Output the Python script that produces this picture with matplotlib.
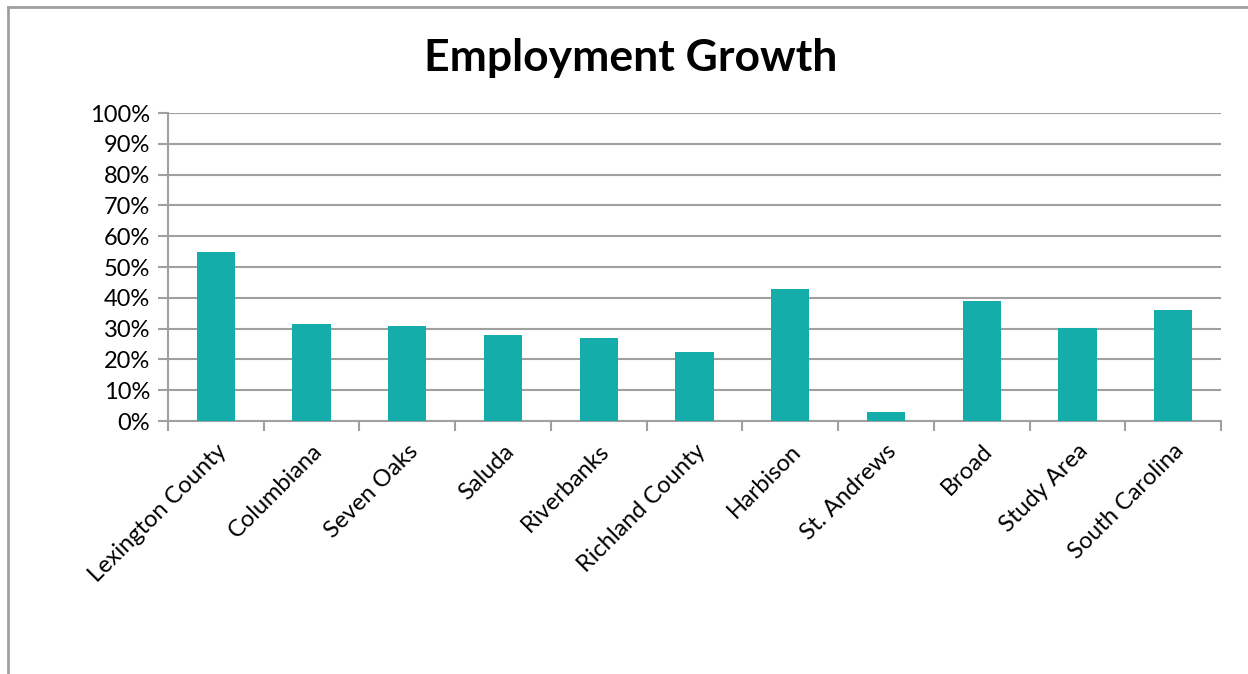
import numpy as np
import matplotlib
matplotlib.use('Agg')
import matplotlib.pyplot as plt
from matplotlib.lines import Line2D

plt.rcParams['font.family'] = ['Lato', 'DejaVu Sans']

areas = ['Lexington County', 'Columbiana', 'Seven Oaks', 'Saluda', 'Riverbanks',
         'Richland County', 'Harbison', 'St. Andrews', 'Broad', 'Study Area',
         'South Carolina']
growth = [55.0, 31.5, 30.8, 27.8, 27.0, 22.4, 43.0, 2.8, 38.9, 30.3, 36.0]
yticks = list(range(0, 101, 10))

grey = '#a0a0a0'
fig = plt.figure(figsize=(12.48, 6.74), dpi=100)
ax = fig.add_axes([168/1248, 1-421/674, (1221-168)/1248, (421-113)/674])

x = np.arange(len(areas))
ax.bar(x, growth, width=0.4, color='#14ada9', zorder=3)

ax.set_xlim(-0.5, len(areas)-0.5)
ax.set_ylim(0, 100)
ax.set_yticks(yticks)
ax.set_yticklabels([f'{v}%' for v in yticks], fontsize=17)
ax.set_xticks(x)
ax.set_xticklabels(areas, rotation=45, ha='right', rotation_mode='anchor', fontsize=17)
ax.set_xticks(np.arange(len(areas)+1)-0.5, minor=True)
ax.tick_params(axis='x', which='major', length=0, pad=14)
ax.tick_params(axis='x', which='minor', length=7, width=1.5, color=grey, direction='out')
ax.tick_params(axis='y', length=7, width=1.5, color=grey, pad=6)
ax.yaxis.grid(True, color=grey, linewidth=1.5, zorder=0)
for s in ['top', 'right']:
    ax.spines[s].set_visible(False)
for s in ['left', 'bottom']:
    ax.spines[s].set_color(grey)
    ax.spines[s].set_linewidth(1.5)
ax.set_axisbelow(True)

fig.text(631/1248, 1-58/674, 'Employment Growth', ha='center', va='center',
         fontsize=32, fontweight='bold')

# chart frame (left and top edges visible)
fig.add_artist(Line2D([8/1248, 8/1248], [0, 1-7/674], color=grey, lw=2))
fig.add_artist(Line2D([8/1248, 1], [1-7/674, 1-7/674], color=grey, lw=2))

fig.savefig('out.png', dpi=100)
